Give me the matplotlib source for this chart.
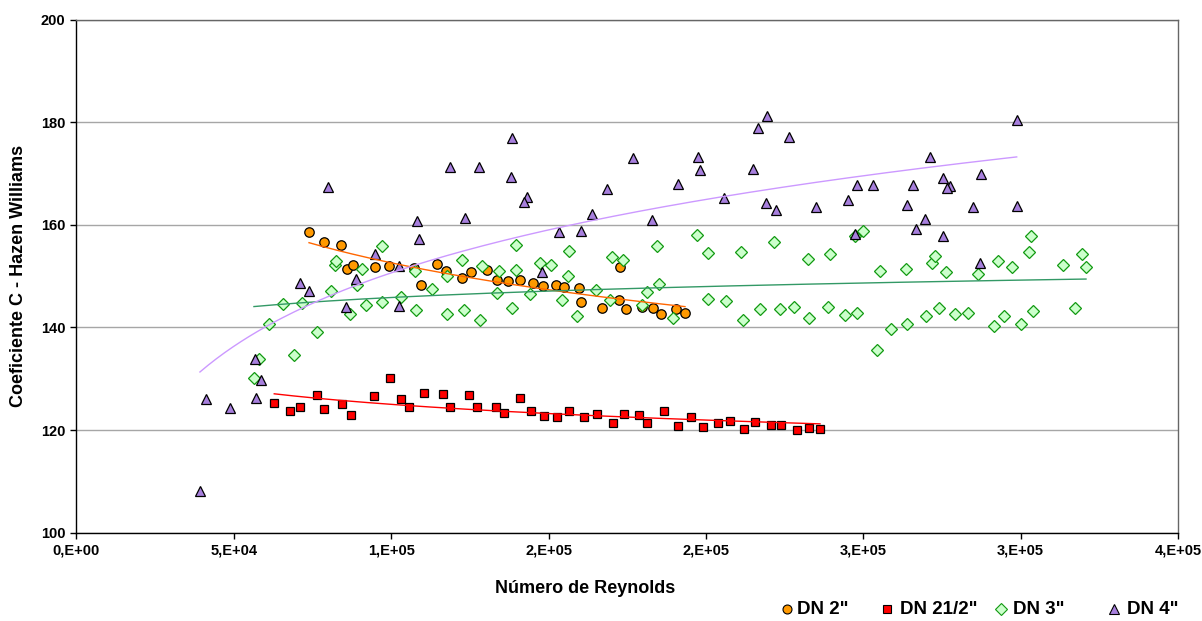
import numpy as np
import matplotlib.pyplot as plt
from matplotlib.lines import Line2D

plt.rcParams['font.family'] = ['Liberation Sans', 'DejaVu Sans']
plt.rcParams['font.weight'] = 'bold'

# DN 2"
re_dn2 = [73900, 78550, 84140, 86050, 87770, 94950, 99400, 107150, 109560, 114550,
          117320, 122400, 125450, 130350, 133520, 137110, 140930, 145060, 148140, 152360,
          155000, 159670, 160310, 166890, 172290, 172800, 174510, 179690, 183190, 185830,
          190400, 193360]
c_dn2 = [158.7, 156.7, 156.1, 151.4, 152.1, 151.7, 151.9, 151.6, 148.3, 152.4,
         151.0, 149.7, 150.9, 151.2, 149.3, 149.1, 149.3, 148.7, 148.1, 148.3,
         147.8, 147.7, 145.0, 143.8, 145.3, 151.8, 143.6, 144.0, 143.8, 142.6,
         143.6, 142.8]

# DN 2 1/2"
re_dn25 = [62850, 67840, 71110, 76420, 78740, 84460, 87230, 94630, 99620, 103210,
           105650, 110420, 116360, 118680, 124720, 127260, 133200, 135840, 141020, 144330,
           148460, 152780, 156500, 161260, 165300, 170380, 173970, 178840, 181190, 186780,
           191230, 195260, 199170, 203750, 207660, 212110, 215600, 220690, 223860, 229040,
           232850, 236260]
c_dn25 = [125.3, 123.7, 124.4, 126.8, 124.1, 125.1, 122.9, 126.6, 130.2, 126.1,
          124.5, 127.3, 127.0, 124.4, 126.8, 124.4, 124.5, 123.3, 126.2, 123.7,
          122.8, 122.6, 123.7, 122.6, 123.1, 121.4, 123.2, 123.0, 121.4, 123.8,
          120.8, 122.6, 120.6, 121.3, 121.7, 120.3, 121.5, 121.0, 121.0, 120.1,
          120.4, 120.3]

# DN 3"
re_dn3 = [56400, 58090, 61170, 65620, 69210, 71560, 76330, 80870, 82240, 82550,
          86810, 89040, 90620, 92090, 97170, 97170, 103020, 107560, 107780, 112870,
          117630, 117630, 122400, 123230, 128310, 128760, 133710, 134350, 138380, 139650,
          139650, 144100, 147380, 150680, 154270, 156080, 156590, 159040, 164980, 169520,
          170070, 173560, 179790, 181380, 184560, 185190, 189640, 197070, 200570, 200570,
          206290, 211060, 211690, 217190, 221640, 223540, 227900, 232440, 232850, 238700,
          239530, 244100, 247470, 247920, 250010, 254460, 255320, 258720, 263580, 263900,
          269940, 271940, 272890, 274160, 276200, 279150, 283280, 286560, 291640, 292820,
          294630, 297360, 300220, 302670, 303210, 303840, 313380, 317190, 319600, 320780]
c_dn3 = [130.1, 133.8, 140.7, 144.5, 134.7, 144.7, 139.1, 147.1, 152.1, 153.0,
         142.6, 148.3, 151.3, 144.3, 155.9, 144.9, 146.0, 151.0, 143.5, 147.5,
         150.0, 142.7, 153.1, 143.5, 141.5, 151.9, 146.7, 151.0, 143.8, 156.1,
         151.2, 146.5, 152.5, 152.2, 145.4, 150.0, 154.9, 142.2, 147.3, 145.4,
         153.7, 153.1, 144.3, 146.9, 155.9, 148.4, 141.9, 158.1, 154.6, 145.5,
         145.2, 154.8, 141.5, 143.6, 156.6, 143.6, 144.0, 153.4, 141.8, 143.9,
         154.4, 142.5, 157.8, 142.9, 158.9, 135.6, 151.1, 139.7, 151.3, 140.7,
         142.3, 152.5, 153.9, 143.7, 150.8, 142.7, 142.9, 150.4, 140.2, 153.0,
         142.2, 151.8, 140.7, 154.8, 157.9, 143.2, 152.2, 143.7, 154.3, 151.7]

# DN 4"
re_dn4 = [39240, 41250, 48870, 57040, 56820, 58530, 70920, 73970, 79820, 85540,
          88720, 94760, 102480, 102480, 108290, 108930, 118780, 123450, 127990, 138380,
          138160, 143060, 142100, 148010, 153320, 160210, 163810, 168480, 176830, 182970,
          191130, 197390, 198220, 205650, 214960, 216650, 219420, 219100, 222270, 226500,
          234890, 245250, 247370, 248010, 253000, 264000, 265810, 266670, 269620, 271110,
          275340, 277660, 276700, 275340, 284780, 287420, 287100, 298760, 298760]
c_dn4 = [108.2, 126.0, 124.2, 126.3, 133.9, 129.7, 148.7, 147.1, 167.4, 144.0,
         149.4, 154.3, 151.9, 144.1, 160.7, 157.3, 171.3, 161.3, 171.3, 176.9,
         169.3, 165.4, 164.5, 150.8, 158.6, 158.9, 162.2, 166.9, 173.0, 161.0,
         168.0, 173.3, 170.6, 165.3, 170.9, 178.9, 181.3, 164.3, 162.9, 177.1,
         163.4, 164.9, 158.2, 167.8, 167.8, 163.9, 167.8, 159.2, 161.1, 173.3,
         169.2, 167.6, 167.2, 157.8, 163.4, 170.0, 152.5, 180.4, 163.7]

x_ticks = [0, 50000, 100000, 150000, 200000, 250000, 300000, 350000]
x_tick_labels = ['0,E+00', '5,E+04', '1,E+05', '2,E+05', '2,E+05', '3,E+05', '3,E+05', '4,E+05']
y_ticks = [100, 120, 140, 160, 180, 200]


def log_trend(x, y):
    # logarithmic trend line, as the spreadsheet draws it
    x = np.asarray(x, float)
    a, b = np.polyfit(np.log(x), np.asarray(y, float), 1)
    xs = np.linspace(x.min(), x.max(), 200)
    return xs, a * np.log(xs) + b


fig = plt.figure(figsize=(12.02, 6.21), dpi=100)
ax = fig.add_axes([0.0636, 0.1423, 0.9164, 0.826])

series = [
    (re_dn2, c_dn2, 'o', '#ff9900', 'black', 6.8, '#ff6600', 'DN 2"'),
    (re_dn25, c_dn25, 's', '#ff0000', 'black', 6.0, '#ff0000', 'DN 21/2"'),
    (re_dn3, c_dn3, 'D', '#ccffcc', '#119911', 6.0, '#339966', 'DN 3"'),
    (re_dn4, c_dn4, '^', '#a77fdd', 'black', 7.2, '#cc99ff', 'DN 4"'),
]

# legend slots (figure pixels: marker x, text x)
legend_pos = [(787, 797), (887, 900), (1001, 1013), (1114, 1127)]
legend_y = 1 - 609 / 621

for i, (xv, yv, mk, fc, ec, ms, lc, lab) in enumerate(series):
    ax.plot(xv, yv, linestyle='none', marker=mk, markersize=ms, markerfacecolor=fc,
            markeredgecolor=ec, markeredgewidth=0.9, zorder=3 + i)
    xs, ys = log_trend(xv, yv)
    ax.plot(xs, ys, color=lc, linewidth=1.0, zorder=10)

    mx, tx = legend_pos[i]
    fig.add_artist(Line2D([mx / 1202], [legend_y], transform=fig.transFigure,
                          linestyle='none', marker=mk, markersize=ms * 0.95,
                          markerfacecolor=fc, markeredgecolor=ec, markeredgewidth=0.8))
    fig.text(tx / 1202, legend_y, lab, fontsize=13.5, fontweight='bold',
             ha='left', va='center')

ax.set_xlim(0, 350000)
ax.set_ylim(100, 200)
ax.set_xticks(x_ticks)
ax.set_xticklabels(x_tick_labels)
ax.set_yticks(y_ticks)
ax.tick_params(direction='out', length=4, width=1, labelsize=10.5, pad=4, color='black')
for lbl in ax.get_xticklabels() + ax.get_yticklabels():
    lbl.set_fontweight('bold')

ax.yaxis.grid(True, color='#a6a6a6', linewidth=1)
ax.set_axisbelow(True)
for side, sp in ax.spines.items():
    sp.set_linewidth(1)
    sp.set_color('black' if side in ('left', 'bottom') else '#666666')

ax.set_xlabel('Número de Reynolds', fontsize=13, fontweight='bold')
ax.xaxis.set_label_coords(0.4617, -0.093)
ax.set_ylabel('Coeficiente C - Hazen Williams', fontsize=13, fontweight='bold')
ax.yaxis.set_label_coords(-0.045, 0.5)

fig.savefig('out.png', dpi=100)
